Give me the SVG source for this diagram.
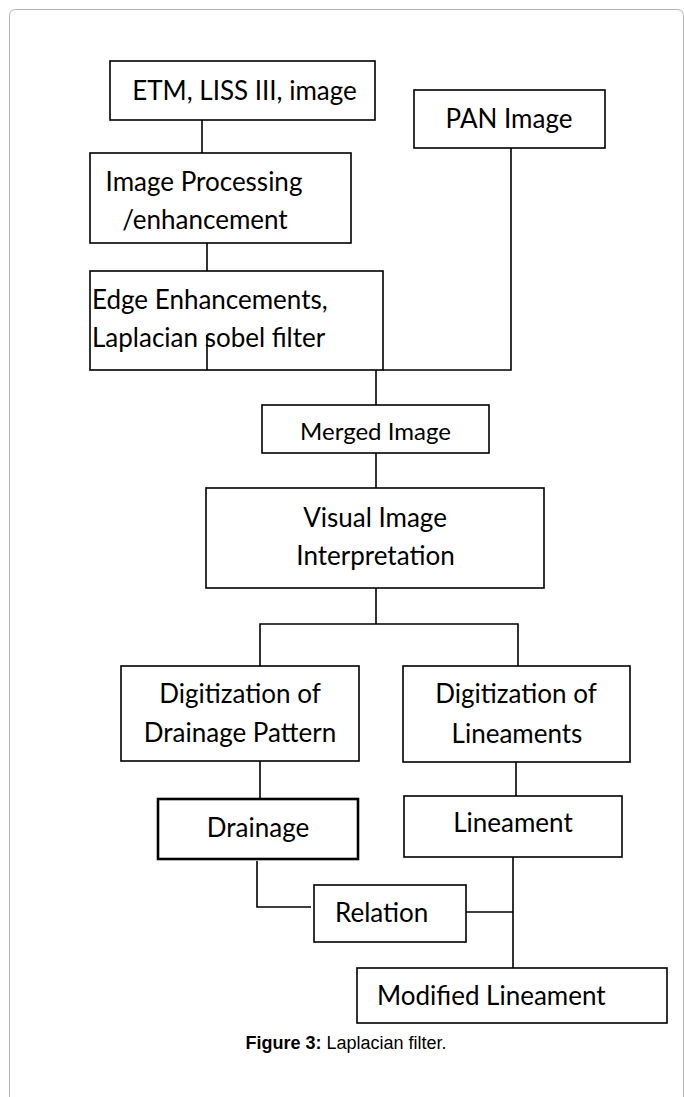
<svg xmlns="http://www.w3.org/2000/svg" width="684" height="1097" viewBox="0 0 684 1097">
<style>
.box{fill:#fff;stroke:#000;stroke-width:1.6}
.bold{stroke-width:2.6}
.t{font-family:Lato,"Open Sans","Liberation Sans",sans-serif;font-size:26px;fill:#000}
.c{text-anchor:middle}
.con{fill:none;stroke:#000;stroke-width:1.6}
.cap{font-family:"Liberation Sans",Arial,sans-serif;font-size:18px;fill:#000;text-anchor:middle}
</style>
<rect width="684" height="1097" fill="#fff"/>
<path d="M9.5,1097 V16 Q9.5,9.5 16,9.5 H677 Q683.5,9.5 683.5,16 V1097" fill="none" stroke="#b4b4b4" stroke-width="1"/>
<g id="connectors">
<path class="con" d="M202,120 V153"/>
<path class="con" d="M207,239 V271"/>
<path class="con" d="M511,148 V370 H383"/>
<path class="con" d="M376,370 V405"/>
<path class="con" d="M376,453 V488"/>
<path class="con" d="M376,588 V624"/>
<path class="con" d="M260,666 V624 H518 V666"/>
<path class="con" d="M260,761 V799"/>
<path class="con" d="M516,762 V796"/>
<path class="con" d="M257,861 V907 H311"/>
<path class="con" d="M513,857 V968"/>
<path class="con" d="M466,912 H513"/>
</g>
<g id="etm"><rect class="box" x="110" y="61" width="265" height="59"/><text class="t c" x="244.5" y="100">ETM, LISS III, image</text></g>
<g id="pan"><rect class="box" x="414" y="90" width="191" height="58"/><text class="t c" x="509" y="128">PAN Image</text></g>
<g id="processing"><rect class="box" x="90" y="153" width="261" height="90"/><text class="t c" x="204" y="191">Image Processing</text><text class="t c" x="205" y="229">/enhancement</text></g>
<g id="edge"><rect class="box" x="90" y="271" width="293" height="99"/><text class="t" x="92" y="309">Edge Enhancements,</text><text class="t" x="92" y="347">Laplacian sobel filter</text><path class="con" d="M207,335 V370"/></g>
<g id="merged"><rect class="box" x="262" y="405" width="227" height="48"/><text class="t c" x="375.5" y="440" style="font-size:24px">Merged Image</text></g>
<g id="visual"><rect class="box" x="206" y="488" width="338" height="100"/><text class="t c" x="375" y="527">Visual Image</text><text class="t c" x="375.5" y="565">Interpretation</text></g>
<g id="digdrain"><rect class="box" x="121" y="666" width="238" height="95"/><text class="t c" x="240" y="703">Digitization of</text><text class="t c" x="240" y="742">Drainage Pattern</text></g>
<g id="diglin"><rect class="box" x="403" y="666" width="227" height="96"/><text class="t c" x="516" y="703">Digitization of</text><text class="t c" x="517" y="743">Lineaments</text></g>
<g id="drainage"><rect class="box bold" x="158" y="799" width="200" height="60"/><text class="t c" x="258" y="837">Drainage</text></g>
<g id="lineament"><rect class="box" x="404" y="796" width="218" height="61"/><text class="t c" x="513" y="832">Lineament</text></g>
<g id="relation"><rect class="box" x="314" y="885" width="152" height="57"/><text class="t" x="335" y="922">Relation</text></g>
<g id="modified"><rect class="box" x="357" y="968" width="310" height="55"/><text class="t" x="377" y="1005">Modified Lineament</text></g>
<text class="cap" x="346" y="1049"><tspan font-weight="bold">Figure 3:</tspan> Laplacian filter.</text>
</svg>
